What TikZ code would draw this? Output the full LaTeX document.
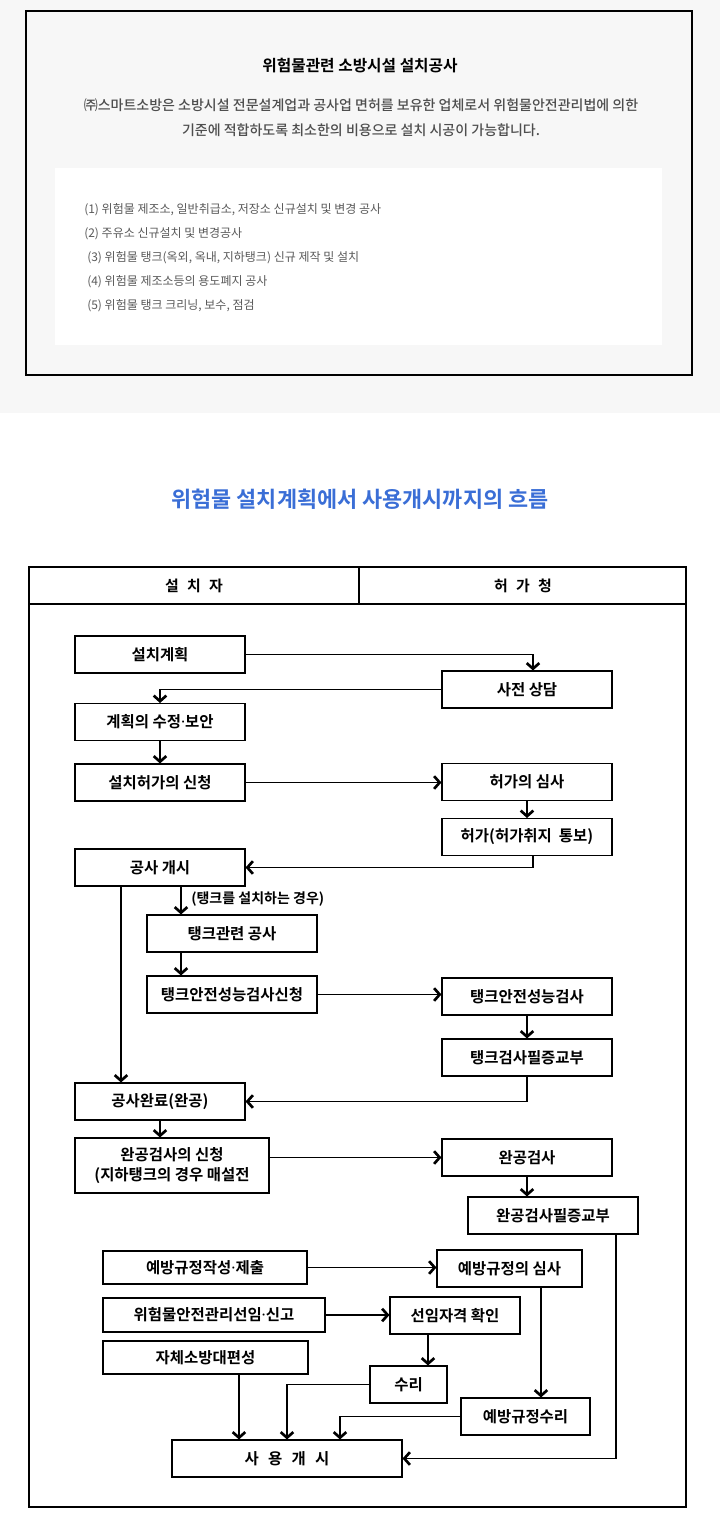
\documentclass[tikz,border=0pt]{standalone}
\usepackage{fontspec}
\setmainfont{Noto Sans CJK KR}[BoldFont={Noto Sans CJK KR Bold}]
\newfontfamily\krmed{Noto Sans CJK KR Medium}
\newfontfamily\dotfont{Noto Sans}
\usepackage{tikz}
\usetikzlibrary{arrows.meta,positioning}
\definecolor{bggrey}{HTML}{F7F7F7}
\definecolor{txtgrey}{HTML}{4E4E4E}
\definecolor{listgrey}{HTML}{5A5A5A}
\definecolor{flowblue}{HTML}{3A6ED6}
\newcommand\middot{{\dotfont\bfseries ·}}

\begin{document}
\begin{tikzpicture}[x=0.75pt,y=-0.75pt,
    box/.style={draw, line width=0.8pt, inner sep=0pt, align=center,
        font=\bfseries\fontsize{11.6}{15}\selectfont, minimum height=27.75pt},
    w170/.style={minimum width=127.5pt},
    flow/.style={line width=0.8pt, -{Straight Barb[length=4.2pt,width=9.5pt,line width=2pt]}},
    item/.style={anchor=west, text=listgrey, font=\fontsize{9}{10}\selectfont, inner sep=0pt}]
    \useasboundingbox (0,0) rectangle (720,1528);

    % top panel
    \fill[bggrey] (0,0) rectangle (720,413);
    \draw[line width=0.8pt, fill=bggrey] (26,11) rectangle (692,375);
    \fill[white] (55,168) rectangle (662,345);
    \node[font=\bfseries\fontsize{11.8}{14}\selectfont] (title) at (360,66) {위험물관련 소방시설 설치공사};
    \node[text=txtgrey, font=\krmed\fontsize{10.5}{18.75}\selectfont, align=center] (intro) at (361,117.5)
        {㈜스마트소방은 소방시설 전문설계업과 공사업 면허를 보유한 업체로서 위험물안전관리법에 의한\\
         기준에 적합하도록 최소한의 비용으로 설치 시공이 가능합니다.};
    \node[item] (item1) at (84,210) {(1) 위험물 제조소, 일반취급소, 저장소 신규설치 및 변경 공사};
    \node[item] (item2) at (84,234) {(2) 주유소 신규설치 및 변경공사};
    \node[item] (item3) at (87,258) {(3) 위험물 탱크(옥외, 옥내, 지하탱크) 신규 제작 및 설치};
    \node[item] (item4) at (87,282) {(4) 위험물 제조소등의 용도폐지 공사};
    \node[item] (item5) at (87,306) {(5) 위험물 탱크 크리닝, 보수, 점검};

    \node[text=flowblue, font=\bfseries\fontsize{16.4}{19}\selectfont] (flowtitle) at (360,499)
        {위험물 설치계획에서 사용개시까지의 흐름};

    % chart frame
    \draw[line width=1.5pt] (29,567) rectangle (686,1507);
    \draw[line width=1.5pt] (29,604) -- (686,604);
    \draw[line width=1.5pt] (359,567) -- (359,604);
    \node[font=\bfseries\fontsize{11.2}{13}\selectfont] (colleft) at (194,585.5) {설\hspace{.55em}치\hspace{.55em}자};
    \node[font=\bfseries\fontsize{11.2}{13}\selectfont] (colright) at (523,585.5) {허\hspace{.55em}가\hspace{.55em}청};

    % boxes
    \node[box, w170] (plan) at (160,654.5) {설치계획};
    \node[box, w170] (consult) at (527,689.5) {사전 상담};
    \node[box, w170] (revise) at (160,722) {계획의 수정\middot 보안};
    \node[box, w170] (apply) at (160,782.5) {설치허가의 신청};
    \node[box, w170] (review) at (527,782) {허가의 심사};
    \node[box, w170] (permit) at (527,837) {허가(허가취지~~통보)};
    \node[box, w170] (start) at (160,867.5) {공사 개시};
    \node[box, w170] (tankwork) at (232,933.5) {탱크관련 공사};
    \node[box, w170] (tankapply) at (232,994.5) {탱크안전성능검사신청};
    \node[box, w170] (tankinsp) at (527,996.5) {탱크안전성능검사};
    \node[box, w170] (tankcert) at (527,1057.5) {탱크검사필증교부};
    \node[box, w170] (done) at (160,1101.5) {공사완료(완공)};
    \node[box, minimum width=145.5pt, minimum height=41.25pt] (finapply) at (172,1165.5)
        {완공검사의 신청\\(지하탱크의 경우 매설전};
    \node[box, w170] (fininsp) at (527,1157.5) {완공검사};
    \node[box, w170] (fincert) at (553,1215.5) {완공검사필증교부};
    \node[box, minimum width=153pt, minimum height=24.75pt] (rulesub) at (205,1267.5) {예방규정작성\middot 제출};
    \node[box, minimum width=108.75pt] (rulerev) at (509.5,1268.5) {예방규정의 심사};
    \node[box, minimum width=166.5pt, minimum height=25.5pt] (mgrsub) at (214,1315) {위험물안전관리선임\middot 신고};
    \node[box, minimum width=97.5pt] (mgrchk) at (455,1315.5) {선임자격 확인};
    \node[box, minimum width=153.75pt, minimum height=24.75pt] (brigade) at (205.5,1357.5) {자체소방대편성};
    \node[box, minimum width=57.75pt] (accept) at (408.5,1384.5) {수리};
    \node[box, minimum width=96.75pt] (ruleacc) at (525.5,1416.5) {예방규정수리};
    \node[box, minimum width=172.5pt] (use) at (287,1458.5) {사\hspace{.6em}용\hspace{.6em}개\hspace{.6em}시};

    % connectors
    \draw[flow] (plan.east) -| ([xshift=4.5pt]consult.north);
    \draw[flow] (consult.west) -| (revise.north);
    \draw[flow] (revise.south) -- (apply.north);
    \draw[flow] (apply.east) -- (apply.east -| review.west);
    \draw[flow] (review.south) -- (permit.north);
    \draw[flow] ([xshift=4.5pt]permit.south) |- (start.east);
    \draw[flow] ([xshift=-29.25pt]start.south) -- ([xshift=-29.25pt]done.north);
    \draw[flow] ([xshift=-38.25pt]tankwork.north |- start.south) -- ([xshift=-38.25pt]tankwork.north)
        node[pos=0.45, right=4pt, font=\bfseries\fontsize{10.5}{12}\selectfont] (tanknote) {(탱크를 설치하는 경우)};
    \draw[flow] ([xshift=-38.25pt]tankwork.south) -- ([xshift=-38.25pt]tankapply.north);
    \draw[flow] (tankapply.east) -- (tankapply.east -| tankinsp.west);
    \draw[flow] (tankinsp.south) -- (tankcert.north);
    \draw[flow] (tankcert.south) |- (done.east);
    \draw[flow] (done.south) -- (done.south |- finapply.north);
    \draw[flow] (fininsp.west -| finapply.east) -- (fininsp.west);
    \draw[flow] (fininsp.south) -- (fininsp.south |- fincert.north);
    \draw[flow] ([xshift=47.25pt]fincert.south) |- (use.east);
    \draw[flow] (rulesub.east) -- (rulesub.east -| rulerev.west);
    \draw[flow] ([xshift=23.6pt]rulerev.south) -- ([xshift=23.6pt]rulerev.south |- ruleacc.north);
    \draw[flow] (mgrsub.east) -- (mgrsub.east -| mgrchk.west);
    \draw[flow] ([xshift=-20.25pt]mgrchk.south) -- ([xshift=-20.25pt]mgrchk.south |- accept.north);
    \draw[flow] ([xshift=25.1pt]brigade.south) -- ([xshift=25.1pt]brigade.south |- use.north);
    \draw[flow] (accept.west) -| (use.north);
    \draw[flow] (ruleacc.west) -| ([xshift=39.75pt]use.north);
\end{tikzpicture}
\end{document}
